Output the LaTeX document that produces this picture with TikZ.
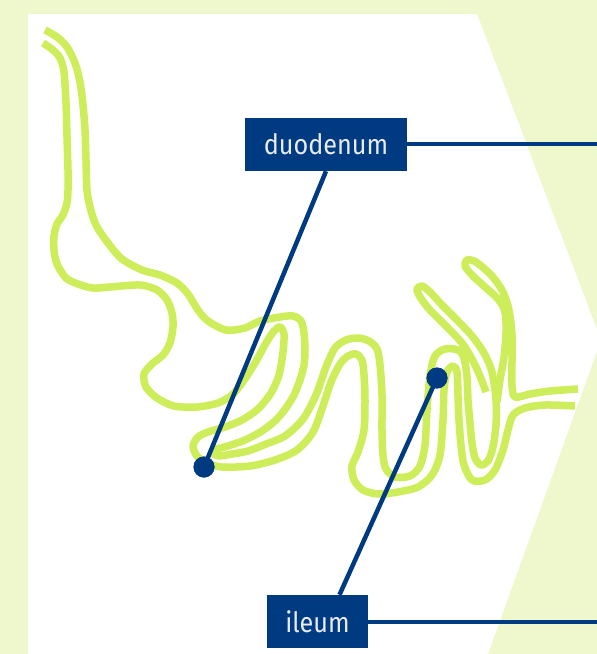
\documentclass[tikz,border=0pt]{standalone}
\usepackage{fontspec}
\setmainfont{Fira Sans}[FakeStretch=0.9]
\usetikzlibrary{calc}
\definecolor{bgpale}{HTML}{EEF8CC}
\definecolor{gut}{HTML}{CDEE5A}
\definecolor{navy}{HTML}{003A80}
\definecolor{labeltext}{HTML}{E8ECF2}
\begin{document}
\begin{tikzpicture}[x=1pt,y=-1pt,
  wall/.style={gut, line width=7.5pt, line cap=butt, line join=round},
  pointer/.style={navy, line width=4.5pt},
  tag/.style={fill=navy, text=labeltext, inner sep=0pt, font=\fontsize{28}{32}\selectfont},
  pin/.style={circle, fill=navy, minimum size=21pt, inner sep=0pt}]
\useasboundingbox (0,0) rectangle (597,654);
% backdrop and white panel
\fill[bgpale] (0,0) rectangle (597,654);
\fill[white] (28,14) -- (477,14) -- (601,340) -- (488,654) -- (28,654) -- cycle;

% intestine: first wall
\draw[wall] plot[smooth, tension=0.5] coordinates {
 (45,30) (57,37) (67,47) (75,63) (80,82) (83,105) (85,130) (86,160) (87,190)
 (90,207) (96,225) (108,243) (122,259) (142,270) (160,275) (177,283) (188,294)
 (198,310) (208,321) (226,330) (245,328) (260,321) (280,317) (293,316) (301,321)
 (304,333) (305,350) (304,365) (300,380) (294,395) (286,408) (276,420) (262,431)
 (245,440) (228,446) (217,449) (213,453) (219,456) (232,454) (248,451) (266,444)
 (285,436) (303,419) (316,395) (326,367) (335,348) (346,340) (358,338) (369,341)
 (377,349) (380,365) (382,395) (382,430) (383,455) (386,469) (395,477) (410,476)
 (420,466) (425,445) (427,410) (430,375) (435,356) (445,349) (458,350) (464,358)
 (467,377) (468,400) (470,423) (472,443) (475,458) (481,465) (488,461) (493,447)
 (496,425) (496,400) (492,372) (484,353) (472,336) (457,320) (442,305) (430,292)
 (422,286) (417,289) (420,297) (430,310) (446,326) (462,343) (472,359) (480,376)
 (486,392)};

% intestine: second wall
\draw[wall] plot[smooth, tension=0.5] coordinates {
 (43,43) (53,50) (60,58) (64,72) (66,103) (67,137) (68,170) (68,190) (67,203)
 (63,215) (57,224) (54,236) (54,250) (57,264) (66,278) (78,284) (93,288) (110,287)
 (140,285) (157,290) (167,300) (172,313) (173,327) (170,343) (163,355) (152,364)
 (144,374) (146,387) (157,398) (174,406) (197,407) (218,403) (232,395) (242,383)
 (255,363) (266,343) (274,331) (280,327) (284,334) (283,352) (279,375) (271,393)
 (258,409) (242,420) (225,427) (208,432) (198,437) (193,446) (197,456) (207,463)
 (222,467) (250,466) (275,460) (297,450) (313,432) (323,406) (331,382) (340,364)
 (348,356) (356,354) (362,360) (364,375) (365,400) (364,430) (358,452) (352,466)
 (354,480) (363,490) (378,494) (398,492) (418,487) (432,475) (440,455) (443,420)
 (444,390) (447,372) (453,366) (457,372) (458,395) (459,420) (461,445) (464,465)
 (472,480) (485,480) (495,470) (503,450) (508,430) (513,415) (525,408) (545,405)
 (575,406)};

% upper fold and exit wall
\draw[wall] plot[smooth, tension=0.5] coordinates {
 (497,402) (500,380) (504,357) (506,333) (505,312) (498,299) (485,287) (472,275)
 (465,266) (467,260) (476,262) (492,276) (503,292) (509,310) (512,335) (512,362)
 (512,385) (515,397) (530,394) (550,391) (578,389)};

% labels
\node[tag, minimum width=162pt, minimum height=53pt] (duo) at (326,144.5) {duodenum};
\node[tag, minimum width=101pt, minimum height=53pt] (ile) at (317.5,621.5) {ileum};
\node[pin] (dDot) at (204,467) {};
\node[pin] (iDot) at (437,378) {};
\coordinate (duoEnd) at (597,144);
\coordinate (ileEnd) at (597,622);

\draw[pointer] (duo.east |- duoEnd) -- (duoEnd);
\draw[pointer] (ile.east |- ileEnd) -- (ileEnd);
\draw[pointer] (duo.south) -- (dDot.center);
\draw[pointer] ([xshift=22pt]ile.north) -- (iDot.center);
\node[pin] at (dDot) {};
\node[pin] at (iDot) {};
\end{tikzpicture}
\end{document}
